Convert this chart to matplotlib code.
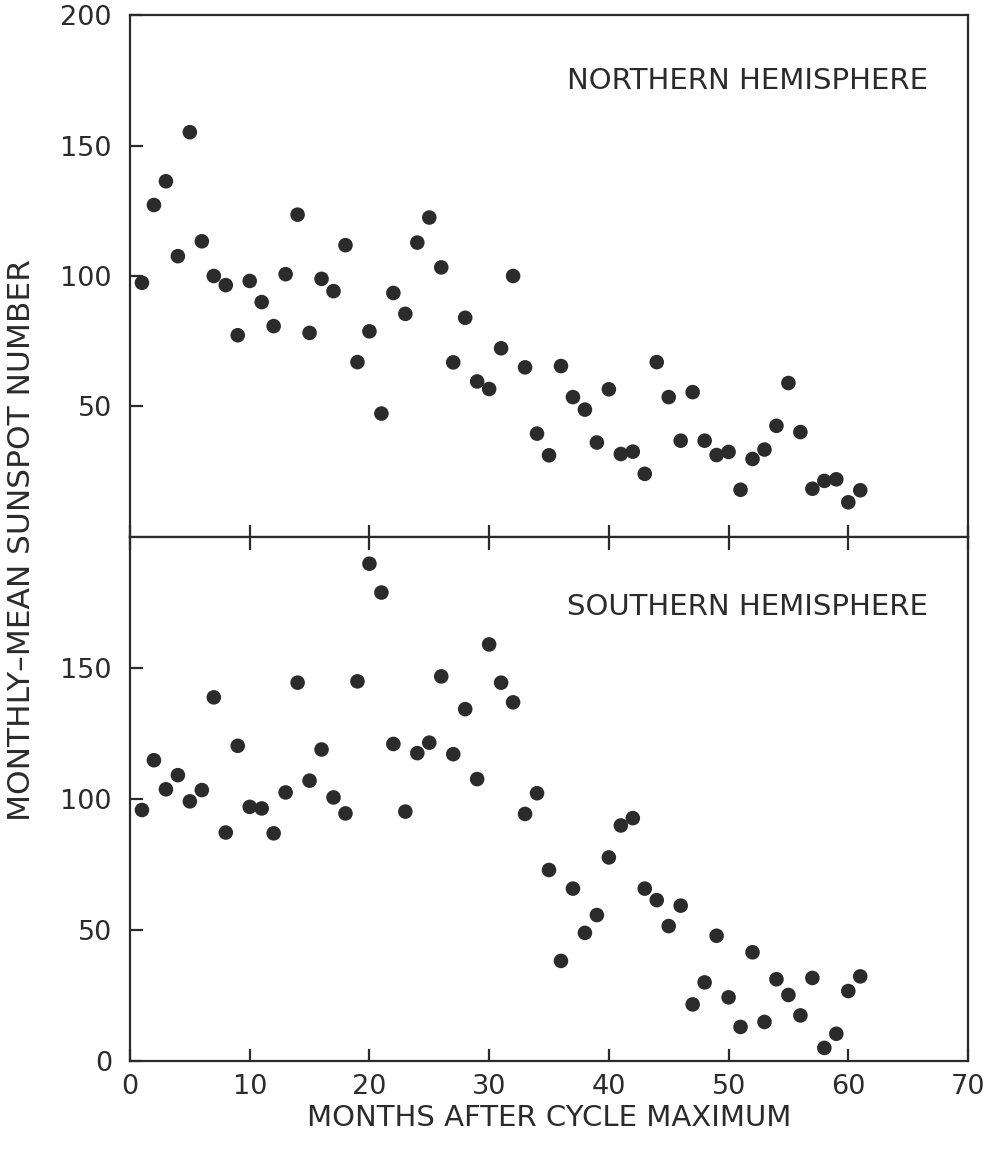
import matplotlib
matplotlib.use("Agg")
import matplotlib.pyplot as plt

months = list(range(1, 62))

north = [97.4, 127.2, 136.3, 107.6, 155.1, 113.3, 100.0, 96.5, 77.3, 98.1,
         90.0, 80.8, 100.7, 123.5, 78.2, 98.9, 94.2, 111.8, 67.0, 78.8,
         47.3, 93.5, 85.5, 112.8, 122.4, 103.3, 66.9, 84.0, 59.6, 56.7,
         72.3, 100.0, 65.0, 39.6, 31.3, 65.5, 53.6, 48.8, 36.2, 56.6,
         31.8, 32.7, 24.2, 67.0, 53.6, 36.9, 55.5, 36.9, 31.4, 32.6,
         18.1, 29.9, 33.5, 42.6, 59.0, 40.2, 18.5, 21.5, 22.1, 13.3,
         17.9]

south = [95.8, 114.8, 103.7, 109.1, 99.1, 103.4, 138.8, 87.2, 120.3, 97.0,
         96.4, 86.9, 102.5, 144.4, 107.0, 118.9, 100.6, 94.5, 144.9, 189.8,
         178.8, 121.0, 95.2, 117.5, 121.5, 146.8, 117.1, 134.3, 107.6, 159.0,
         144.4, 136.9, 94.3, 102.2, 72.9, 38.2, 65.8, 48.9, 55.7, 77.7,
         89.9, 92.7, 65.8, 61.4, 51.5, 59.3, 21.6, 30.0, 47.8, 24.3,
         13.0, 41.5, 14.9, 31.2, 25.2, 17.4, 31.7, 5.0, 10.4, 26.7,
         32.3]

x_ticks = [0, 10, 20, 30, 40, 50, 60, 70]
top_yticks = [50, 100, 150, 200]
bot_yticks = [0, 50, 100, 150]
panel_titles = ["NORTHERN HEMISPHERE", "SOUTHERN HEMISPHERE"]

ink = "#2b2b2b"
plt.rcParams['font.family'] = ['DejaVu Sans']
fig = plt.figure(figsize=(9.92, 11.51), dpi=100)

W, H = 992, 1151
left, right = 130, 968
top_y, mid_y, bot_y = 15, 537, 1061

ax_top = fig.add_axes([left / W, 1 - mid_y / H, (right - left) / W, (mid_y - top_y) / H])
ax_bot = fig.add_axes([left / W, 1 - bot_y / H, (right - left) / W, (bot_y - mid_y) / H])

for ax, data, yt, title, ty in [(ax_top, north, top_yticks, panel_titles[0], 0.873),
                                (ax_bot, south, bot_yticks, panel_titles[1], 0.866)]:
    ax.scatter(months, data, s=110, color=ink, edgecolors='none', zorder=3)
    ax.set_xlim(0, 70)
    ax.set_ylim(0, 200)
    ax.set_yticks(yt)
    ax.set_xticks(x_ticks)
    for sp in ax.spines.values():
        sp.set_linewidth(1.6)
        sp.set_color(ink)
    ax.tick_params(axis='both', direction='in', length=9, width=1.6, color=ink,
                   labelsize=19.5, labelcolor=ink)
    ax.tick_params(axis='y', pad=13)
    ax.tick_params(axis='x', pad=9)
    ax.tick_params(top=False, right=False)
    ax.text(0.952, ty, title, transform=ax.transAxes,
            ha='right', va='center', fontsize=21, color=ink)

ax_top.tick_params(axis='x', labelbottom=False)
ax_bot.tick_params(axis='x', top=True, bottom=True)

ax_bot.set_xlabel("MONTHS AFTER CYCLE MAXIMUM", fontsize=21, color=ink, labelpad=3)
fig.text(22 / W, 1 - 540 / H, "MONTHLY\u2013MEAN SUNSPOT NUMBER", rotation=90,
         ha='center', va='center', fontsize=22.5, color=ink)

fig.savefig("out.png", dpi=100)
